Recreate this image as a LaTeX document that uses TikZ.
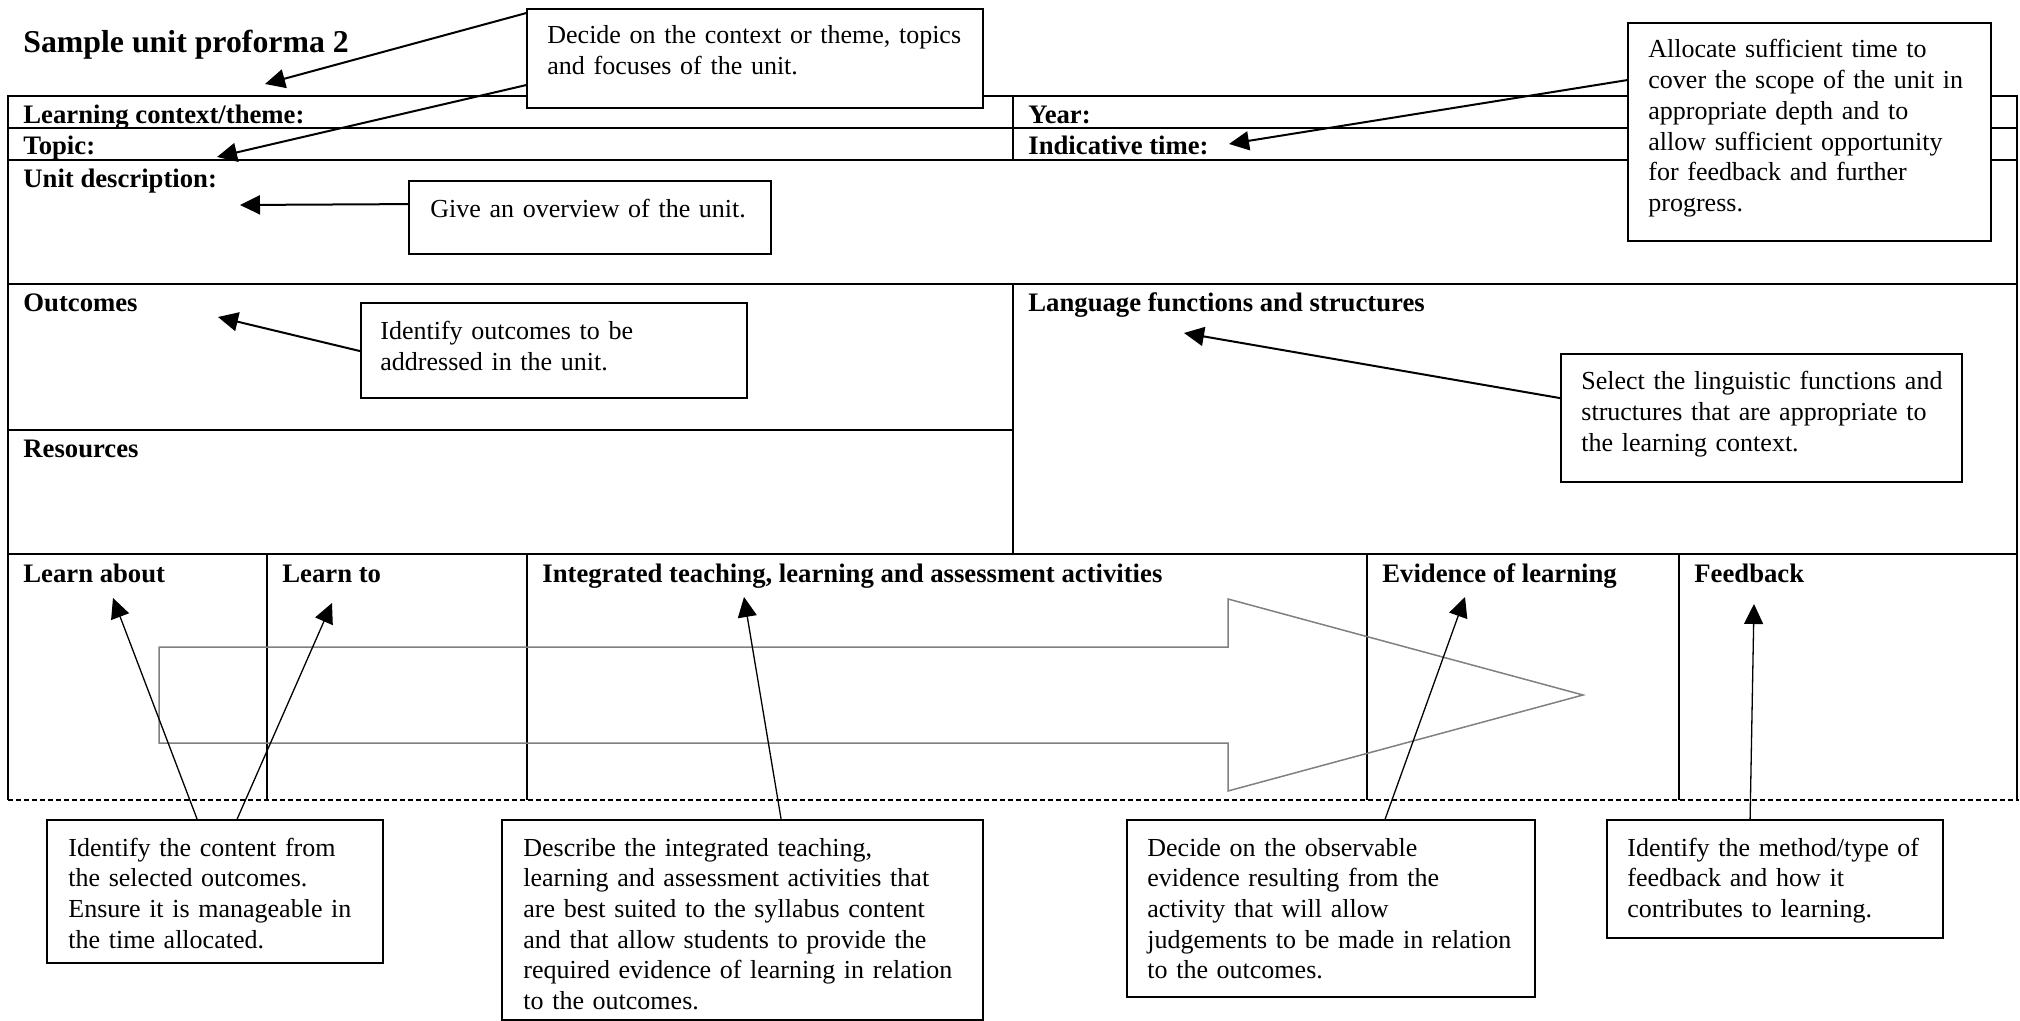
\documentclass[tikz,border=0pt]{standalone}
\usepackage{fontspec}
\setmainfont{Liberation Serif}
\usetikzlibrary{arrows.meta,calc,fit}
\begin{document}
\begin{tikzpicture}[x=0.5pt,y=-0.5pt,
  tbl/.style={line width=1pt},
  thinrule/.style={line width=0.6pt},
  hdr/.style={font=\fontsize{13.35pt}{15.35pt}\selectfont\bfseries, anchor=base west, inner sep=0pt},
  titletext/.style={font=\fontsize{15.9pt}{18pt}\selectfont\bfseries, anchor=base west, inner sep=0pt},
  callbox/.style={draw, line width=0.9pt, fill=white, inner sep=0pt},
  calltext/.style={font=\fontsize{13pt}{15.35pt}\selectfont, anchor=base west, inner sep=0pt, align=left, text width=#1},
  toparrow/.style={line width=1pt, -{Triangle[length=10pt,width=9.5pt]}},
  botarrow/.style={line width=0.65pt, -{Triangle[length=10pt,width=9.5pt]}},
  bigarrow/.style={draw=black!50, line width=0.75pt, line join=miter},
  dashrule/.style={line width=1pt, dash pattern=on 2.6pt off 1.4pt}
]
\useasboundingbox (0,0) rectangle (2020,1021);

% ---------- title ----------
\node[titletext] (title) at (23,53) {Sample unit proforma 2};

% ---------- table rules ----------
\draw[tbl] (8,96) -- (2017,96);
\draw[tbl] (8,128) -- (2017,128);
\draw[tbl] (8,160) -- (2017,160);
\draw[tbl] (8,284) -- (2017,284);
\draw[tbl] (8,430) -- (1013,430);
\draw[tbl] (8,554) -- (2017,554);
\draw[tbl] (8,95) -- (8,800);
\draw[tbl] (2017,95) -- (2017,800);
\draw[tbl] (1013,96) -- (1013,160);
\draw[tbl] (1013,284) -- (1013,554);
\draw[thinrule] (267,554) -- (267,800);
\draw[thinrule] (527,554) -- (527,800);
\draw[thinrule] (1367,554) -- (1367,800);
\draw[thinrule] (1679,554) -- (1679,800);
\draw[dashrule] (8,800) -- (2019,800);

% ---------- headers ----------
\node[hdr] (hTheme) at (23,124) {Learning context/theme:};
\node[hdr] (hYear) at (1028,124) {Year:};
\node[hdr] (hTopic) at (23,155) {Topic:};
\node[hdr] (hTime) at (1028,155) {Indicative time:};
\node[hdr] (hUnit) at (23,188) {Unit description:};
\node[hdr] (hOut) at (23,312) {Outcomes};
\node[hdr] (hLang) at (1028,312) {Language functions and structures};
\node[hdr] (hRes) at (23,458) {Resources};
\node[hdr] (hAbout) at (23,582) {Learn about};
\node[hdr] (hTo) at (282,582) {Learn to};
\node[hdr] (hInt) at (542,582) {Integrated teaching, learning and assessment activities};
\node[hdr] (hEv) at (1382,582) {Evidence of learning};
\node[hdr] (hFb) at (1694,582) {Feedback};

% ---------- big grey arrow ----------
\draw[bigarrow] (159,647) -- (1228,647) -- (1228,599) -- (1583,695) -- (1228,791) -- (1228,743) -- (159,743) -- cycle;

% ---------- callout boxes ----------
\node[callbox, fit={(527,9) (983,108)}] (c1) {};
\node[calltext=228pt] at (547,44) {Decide on the context or theme, topics\\and focuses of the unit.};

\node[callbox, fit={(1628,23) (1991,241)}] (c2) {};
\node[calltext=181pt] at (1648,58) {Allocate sufficient time to\\cover the scope of the unit in\\appropriate depth and to\\allow sufficient opportunity\\for feedback and further\\progress.};

\node[callbox, fit={(409,181) (771,254)}] (c3) {};
\node[calltext=181pt] at (430,218) {Give an overview of the unit.};

\node[callbox, fit={(361,303) (747,398)}] (c4) {};
\node[calltext=193pt] at (380,340) {Identify outcomes to be\\addressed in the unit.};

\node[callbox, fit={(1561,354) (1962,482)}] (c5) {};
\node[calltext=200pt] at (1581,390) {Select the linguistic functions and\\structures that are appropriate to\\the learning context.};

\node[callbox, fit={(47,820) (383,963)}] (c6) {};
\node[calltext=168pt] at (68,856) {Identify the content from\\the selected outcomes.\\Ensure it is manageable in\\the time allocated.};

\node[callbox, fit={(502,820) (983,1020)}] (c7) {};
\node[calltext=240pt] at (523,856) {Describe the integrated teaching,\\learning and assessment activities that\\are best suited to the syllabus content\\and that allow students to provide the\\required evidence of learning in relation\\to the outcomes.};

\node[callbox, fit={(1127,820) (1535,997)}] (c8) {};
\node[calltext=204pt] at (1147,856) {Decide on the observable\\evidence resulting from the\\activity that will allow\\judgements to be made in relation\\to the outcomes.};

\node[callbox, fit={(1607,820) (1943,938)}] (c9) {};
\node[calltext=168pt] at (1627,856) {Identify the method/type of\\feedback and how it\\contributes to learning.};

% ---------- arrow targets ----------
\coordinate (tTheme) at (265,84);
\coordinate (tTopic) at (217,157);
\coordinate (tTime) at (1229,144);
\coordinate (tUnit) at (240,205);
\coordinate (tOut) at (218,317);
\coordinate (tLang) at (1184,333);
\coordinate (tAbout) at (113,598);
\coordinate (tTo) at (332,603);
\coordinate (tInt) at (744,597);
\coordinate (tEv) at (1465,597);
\coordinate (tFb) at (1754,604);

% ---------- connectors ----------
\draw[toparrow] ($(c1.north west)+(0,5)$) -- (tTheme);
\draw[toparrow] ($(c1.north west)+(0,77)$) -- (tTopic);
\draw[toparrow] ($(c2.north west)+(0,58)$) -- (tTime);
\draw[toparrow] ($(c3.north west)+(0,24)$) -- (tUnit);
\draw[toparrow] ($(c4.north west)+(0,49)$) -- (tOut);
\draw[toparrow] ($(c5.north west)+(0,45)$) -- (tLang);
\draw[botarrow] ($(c6.north west)+(151,0)$) -- (tAbout);
\draw[botarrow] ($(c6.north west)+(191,0)$) -- (tTo);
\draw[botarrow] ($(c7.north west)+(280,0)$) -- (tInt);
\draw[botarrow] ($(c8.north west)+(259,0)$) -- (tEv);
\draw[botarrow] ($(c9.north west)+(144,0)$) -- (tFb);
\end{tikzpicture}
\end{document}
